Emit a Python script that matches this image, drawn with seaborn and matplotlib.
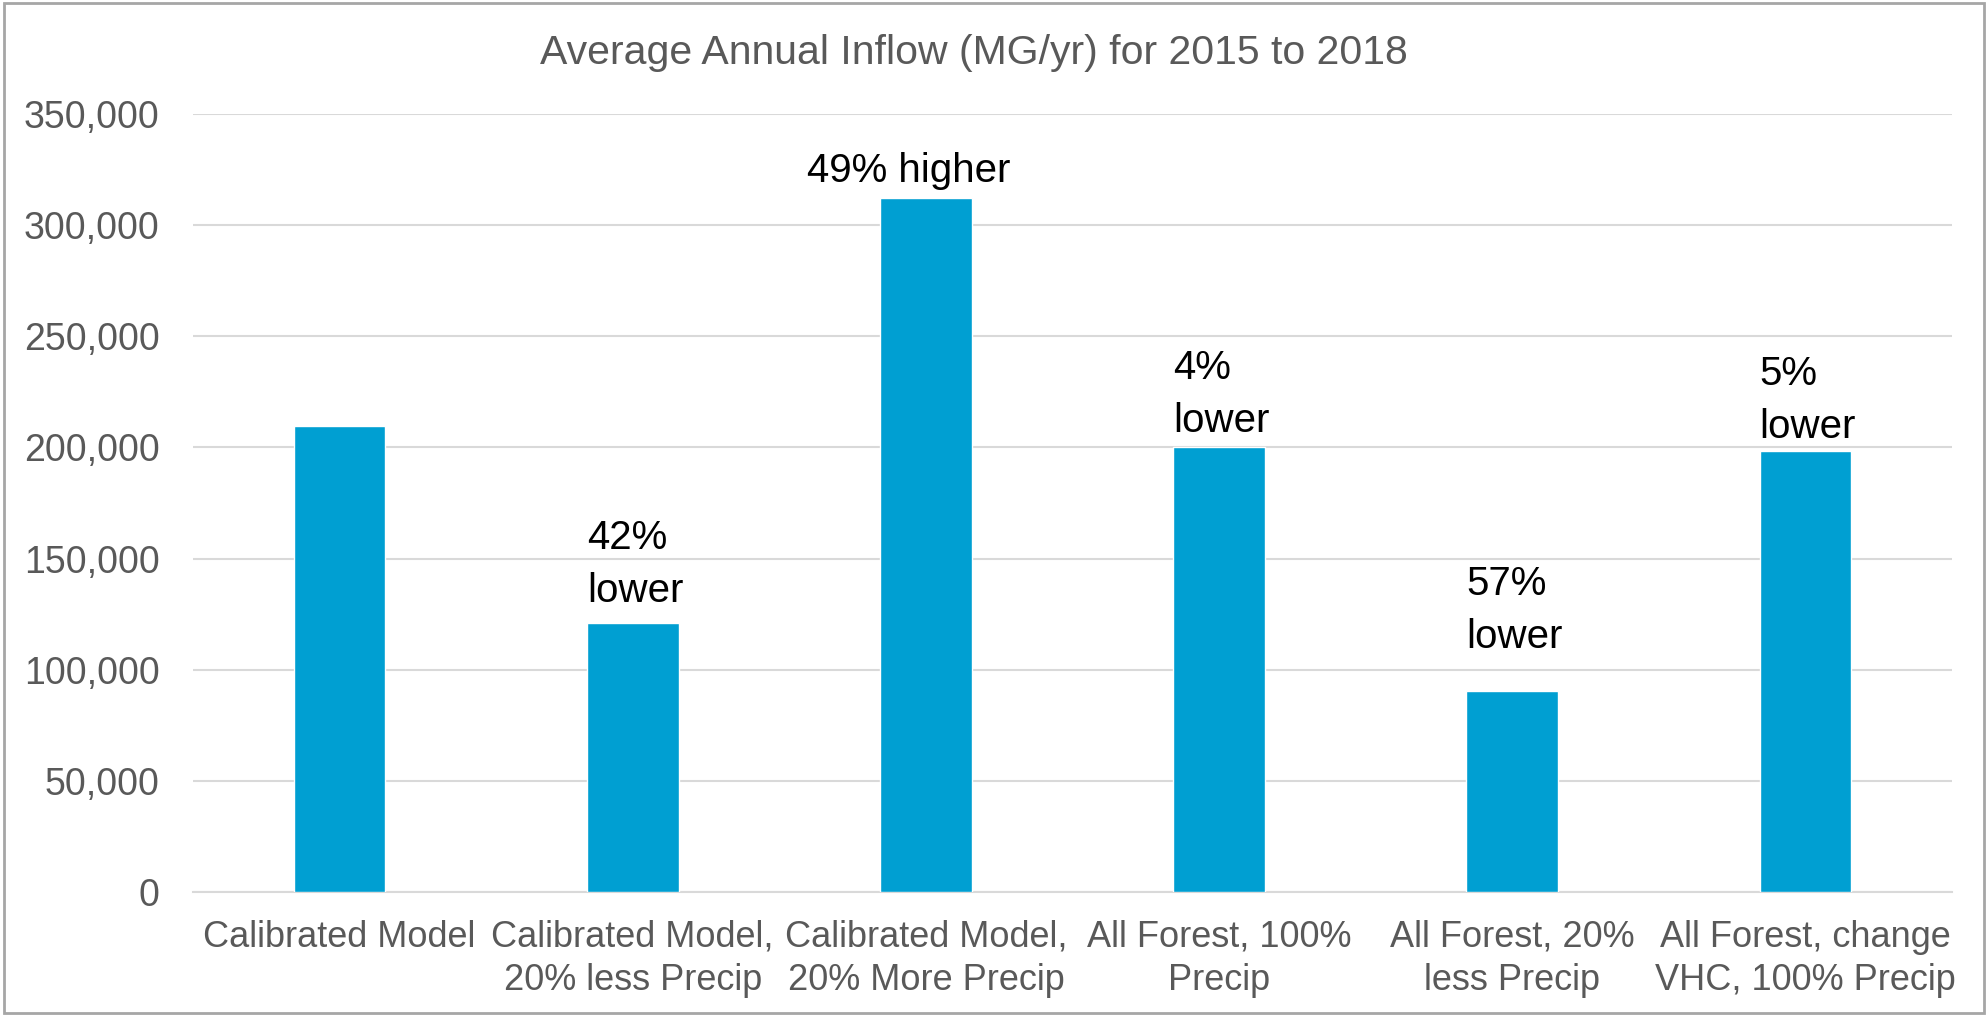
import matplotlib
matplotlib.use("Agg")
import matplotlib.pyplot as plt
import seaborn as sns
import pandas as pd
from matplotlib.patches import Rectangle
from matplotlib.ticker import FuncFormatter

# values (MG/yr)
scenarios = [
    "Calibrated Model",
    "Calibrated Model,\n20% less Precip",
    "Calibrated Model,\n20% More Precip",
    "All Forest, 100%\nPrecip",
    "All Forest, 20%\nless Precip",
    "All Forest, change\nVHC, 100% Precip",
]
inflow = [209500, 121000, 312000, 200300, 90500, 198500]
change_labels = ["", "42%\nlower", "49% higher", "4%\nlower", "57%\nlower", "5%\nlower"]

df = pd.DataFrame({"scenario": scenarios, "inflow": inflow})

sns.set_theme(style="white")
plt.rcParams["font.family"] = ["Liberation Sans", "DejaVu Sans"]

gray = "#595959"
grid_col = "#D9D9D9"
bar_col = "#009FD2"
bar_w = 0.313

fig = plt.figure(figsize=(19.88, 10.16), dpi=100)
ax = fig.add_axes([0.097, 0.122, 0.885, 0.766])

sns.barplot(data=df, x="scenario", y="inflow", color=bar_col, width=bar_w,
            saturation=1, ax=ax, zorder=3)

ax.set_ylim(0, 350000)
ax.set_yticks(range(0, 350001, 50000))
ax.yaxis.set_major_formatter(FuncFormatter(lambda v, p: f"{int(v):,}"))
ax.grid(axis="y", color=grid_col, linewidth=1.5, zorder=0)
for s in ["top", "right", "left"]:
    ax.spines[s].set_visible(False)
ax.spines["bottom"].set_color(grid_col)
ax.spines["bottom"].set_linewidth(1.5)
ax.tick_params(axis="y", length=0, pad=24, labelsize=27, labelcolor=gray)
ax.tick_params(axis="x", length=0, pad=20, labelsize=26, labelcolor=gray)
for lbl in ax.get_xticklabels():
    lbl.set_linespacing(1.3)
ax.set_xlabel("")
ax.set_ylabel("")

# percentage-change labels above the bars (gap above bar top, in data units)
offsets = [0, 5900, 3950, 2900, 15600, 2150]
for i, (val, txt) in enumerate(zip(inflow, change_labels)):
    if not txt:
        continue
    if "\n" in txt:
        ax.text(i - bar_w / 2, val + offsets[i], txt, ha="left", va="bottom",
                fontsize=29, color="black", linespacing=1.5)
    else:
        ax.text(i - 0.058, val + offsets[i], txt, ha="center", va="bottom",
                fontsize=29, color="black")

fig.text(0.49, 0.948, "Average Annual Inflow (MG/yr) for 2015 to 2018",
         ha="center", va="center", fontsize=29.5, color=gray)

fig.patches.append(Rectangle((0.002, 0.003), 0.996, 0.994, transform=fig.transFigure,
                             fill=False, edgecolor="#A6A6A6", linewidth=2))

fig.savefig("out.png", dpi=100)
